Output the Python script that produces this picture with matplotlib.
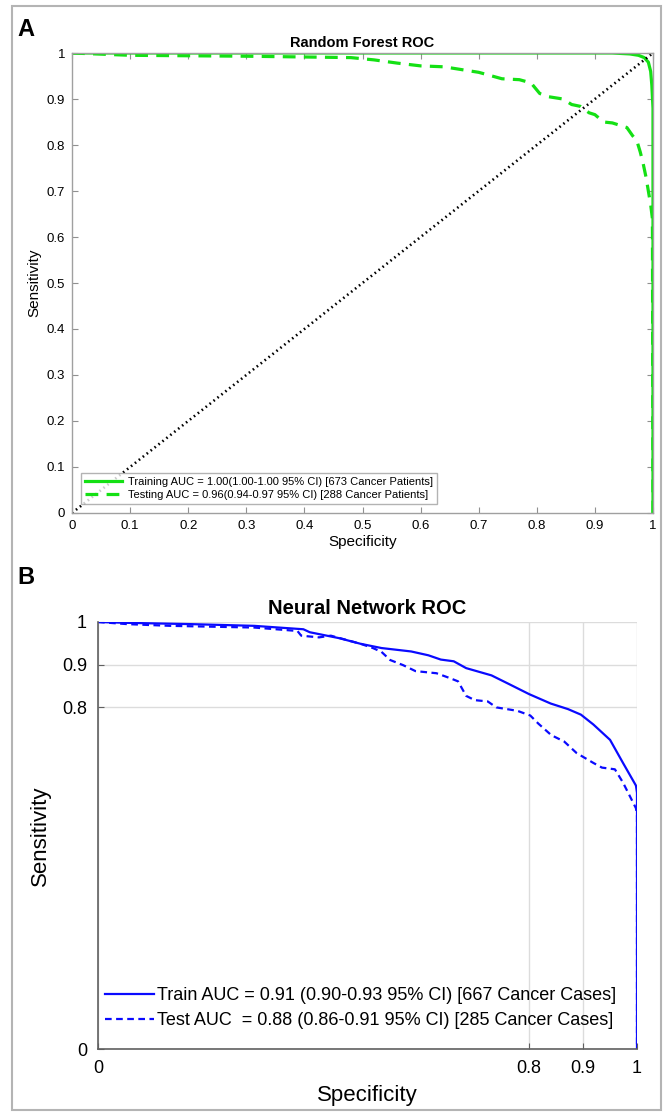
import matplotlib
matplotlib.use("Agg")
import matplotlib.pyplot as plt
from matplotlib.patches import Rectangle

plt.rcParams['font.family'] = ['Liberation Sans', 'DejaVu Sans']

# Panel A - Random Forest ROC (specificity vs sensitivity)
rf_train_spec = [0, 0.5, 0.93, 0.96, 0.975, 0.985, 0.992, 0.996, 0.998, 1.0, 1.0]
rf_train_sens = [1, 1, 1, 0.998, 0.995, 0.99, 0.98, 0.96, 0.93, 0.88, 0]
rf_test_spec = [0, 0.1, 0.3, 0.48, 0.52, 0.56, 0.6, 0.64, 0.68, 0.70, 0.74, 0.77, 0.79,
                0.805, 0.82, 0.845, 0.86, 0.875, 0.89, 0.90, 0.915, 0.93, 0.945, 0.955,
                0.965, 0.972, 0.978, 0.983, 0.988, 0.992, 0.996, 0.999, 1.0]
rf_test_sens = [1, 0.995, 0.993, 0.99, 0.985, 0.978, 0.972, 0.97, 0.962, 0.958, 0.944, 0.942, 0.935,
                0.912, 0.905, 0.90, 0.888, 0.884, 0.87, 0.866, 0.85, 0.848, 0.842, 0.838,
                0.82, 0.81, 0.785, 0.76, 0.73, 0.70, 0.67, 0.64, 0.0]
rf_chance = [0, 1]
rf_ticks = [0, 0.1, 0.2, 0.3, 0.4, 0.5, 0.6, 0.7, 0.8, 0.9, 1]
rf_ticklabels = ['0', '0.1', '0.2', '0.3', '0.4', '0.5', '0.6', '0.7', '0.8', '0.9', '1']
rf_labels = ['Training AUC = 1.00(1.00-1.00 95% CI) [673 Cancer Patients]',
             'Testing AUC = 0.96(0.94-0.97 95% CI) [288 Cancer Patients]']

# Panel B - Neural Network ROC
nn_train_spec = [0, 0.055, 0.173, 0.29, 0.381, 0.393, 0.448, 0.487, 0.526, 0.581, 0.613,
                 0.636, 0.66, 0.683, 0.73, 0.762, 0.80, 0.84, 0.872, 0.896, 0.919, 0.95,
                 0.974, 0.998, 1.0, 1.0]
nn_train_sens = [1, 0.998, 0.995, 0.991, 0.983, 0.976, 0.962, 0.949, 0.939, 0.931, 0.922,
                 0.912, 0.908, 0.892, 0.875, 0.855, 0.831, 0.809, 0.796, 0.783, 0.76, 0.724,
                 0.67, 0.617, 0.6, 0.0]
nn_test_spec = [0, 0.055, 0.134, 0.29, 0.37, 0.377, 0.41, 0.432, 0.487, 0.51, 0.526, 0.542,
                0.566, 0.589, 0.628, 0.652, 0.668, 0.683, 0.699, 0.723, 0.739, 0.778, 0.802,
                0.817, 0.841, 0.865, 0.888, 0.919, 0.935, 0.959, 0.974, 0.998, 1.0, 1.0]
nn_test_sens = [1, 0.995, 0.991, 0.987, 0.979, 0.968, 0.964, 0.968, 0.949, 0.939, 0.93, 0.911,
                0.899, 0.885, 0.88, 0.869, 0.861, 0.827, 0.817, 0.814, 0.80, 0.792, 0.781,
                0.762, 0.735, 0.72, 0.693, 0.67, 0.659, 0.655, 0.624, 0.564, 0.55, 0.0]
nn_ticks = [0, 0.8, 0.9, 1]
nn_ticklabels = ['0', '0.8', '0.9', '1']
nn_labels = ['Train AUC = 0.91 (0.90-0.93 95% CI) [667 Cancer Cases]',
             'Test AUC  = 0.88 (0.86-0.91 95% CI) [285 Cancer Cases]']

GREEN = '#14e014'
BLUE = '#0a0aff'
W, H = 664, 1113

fig = plt.figure(figsize=(W / 100, H / 100), dpi=100)

def box(l, t, r, b):
    return [l / W, 1 - b / H, (r - l) / W, (b - t) / H]

# ---- panel A
ax1 = fig.add_axes(box(72, 53, 653, 513))
ax1.plot(rf_train_spec, rf_train_sens, color=GREEN, lw=2.3, label=rf_labels[0])
ax1.plot(rf_test_spec, rf_test_sens, color=GREEN, lw=2.3, dashes=(4, 2.6), label=rf_labels[1])
ax1.plot(rf_chance, rf_chance, color='black', lw=1.9, dashes=(0.6, 1.3))
ax1.set_xlim(0, 1)
ax1.set_ylim(0, 1)
ax1.set_xticks(rf_ticks)
ax1.set_xticklabels(rf_ticklabels)
ax1.set_yticks(rf_ticks)
ax1.set_yticklabels(rf_ticklabels)
ax1.tick_params(direction='in', length=4, width=0.8, color='#909090', labelsize=9.5,
                top=True, right=True, pad=5)
for s in ax1.spines.values():
    s.set_color('#a0a0a0')
    s.set_linewidth(1)
ax1.set_title('Random Forest ROC', fontsize=10.5, fontweight='bold', pad=4)
ax1.set_xlabel('Specificity', fontsize=11, labelpad=2)
ax1.set_ylabel('Sensitivity', fontsize=11, labelpad=4)
leg1 = ax1.legend(loc='lower left', bbox_to_anchor=(0.015, 0.02), fontsize=8, frameon=True,
                  fancybox=False, edgecolor='#a0a0a0', handlelength=3.4, labelspacing=0.25,
                  borderpad=0.35, handletextpad=0.5, borderaxespad=0)
leg1.get_frame().set_linewidth(1)

# ---- panel B
ax2 = fig.add_axes(box(98, 622, 637, 1049))
ax2.plot(nn_train_spec, nn_train_sens, color=BLUE, lw=1.6, label=nn_labels[0])
ax2.plot(nn_test_spec, nn_test_sens, color=BLUE, lw=1.6, dashes=(3, 2), label=nn_labels[1])
ax2.set_xlim(0, 1)
ax2.set_ylim(0, 1)
ax2.set_xticks(nn_ticks)
ax2.set_xticklabels(nn_ticklabels)
ax2.set_yticks(nn_ticks)
ax2.set_yticklabels(nn_ticklabels)
ax2.grid(True, color='#dcdcdc', lw=1)
ax2.set_axisbelow(True)
ax2.tick_params(direction='in', length=4, width=0.8, color='#606060', labelsize=13, pad=8)
ax2.spines['top'].set_visible(False)
ax2.spines['right'].set_visible(False)
for s in ('left', 'bottom'):
    ax2.spines[s].set_color('#606060')
    ax2.spines[s].set_linewidth(1.2)
ax2.set_title('Neural Network ROC', fontsize=14.5, fontweight='bold', pad=6)
ax2.set_xlabel('Specificity', fontsize=16, labelpad=6)
ax2.set_ylabel('Sensitivity', fontsize=16, labelpad=8)
ax2.legend(loc='lower left', bbox_to_anchor=(0.0, 0.03), fontsize=13, frameon=False,
           handlelength=2.7, labelspacing=0.45, handletextpad=0.15, borderaxespad=0)

# panel letters and outer frame
fig.text(26 / W, 1 - 30 / H, 'A', fontsize=17, fontweight='bold', ha='center', va='center')
fig.text(26 / W, 1 - 578 / H, 'B', fontsize=17, fontweight='bold', ha='center', va='center')
fig.add_artist(Rectangle((12 / W, 3 / H), (661 - 12) / W, (H - 9) / H, transform=fig.transFigure,
                         fill=False, ec='#b4b4b4', lw=1.5))

fig.savefig('out.png', dpi=100)
